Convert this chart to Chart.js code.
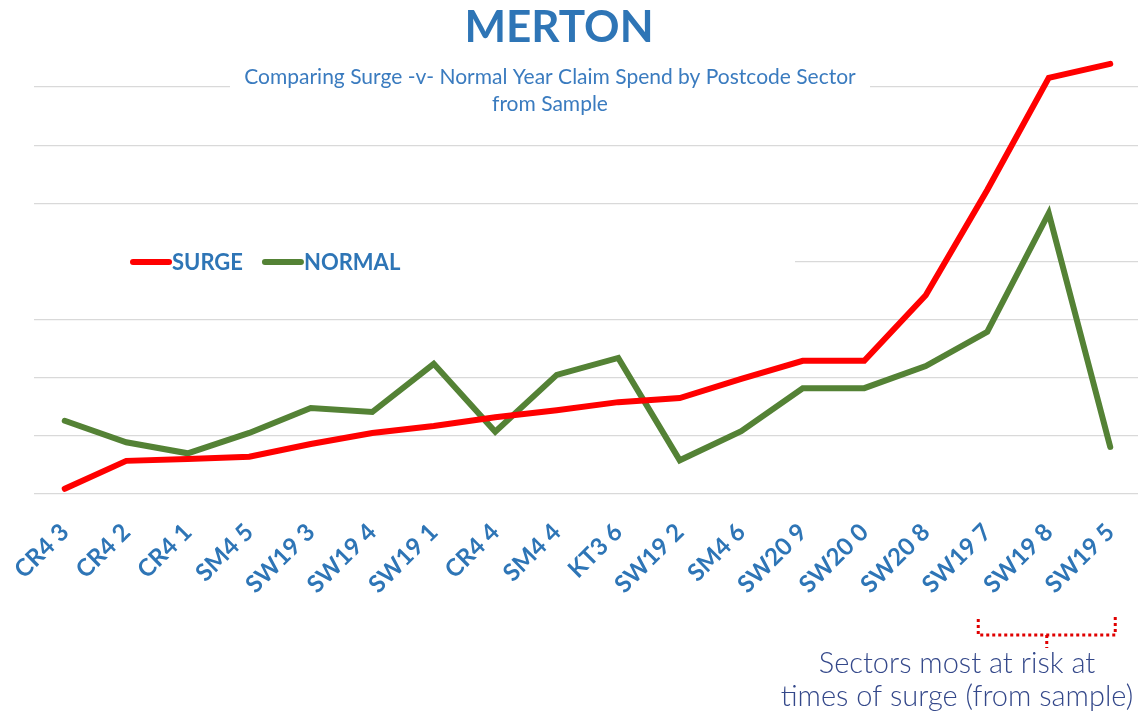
<!DOCTYPE html>
<html>
<head>
<meta charset="utf-8">
<script src="https://cdn.jsdelivr.net/npm/chart.js@4.4.0/dist/chart.umd.min.js"></script>
<style>
  html, body { margin: 0; padding: 0; background: #fff; }
  #wrap { width: 1138px; height: 715px; overflow: hidden; position: relative; }
  canvas { display: block; }
</style>
</head>
<body>
<div id="wrap">
  <canvas id="mertonChart" width="1142" height="715"></canvas>
</div>
<script>
// postcode sectors, sorted by surge spend
const sectors = ['CR4 3', 'CR4 2', 'CR4 1', 'SM4 5', 'SW19 3', 'SW19 4', 'SW19 1', 'CR4 4', 'SM4 4',
    'KT3 6', 'SW19 2', 'SM4 6', 'SW20 9', 'SW20 0', 'SW20 8', 'SW19 7', 'SW19 8', 'SW19 5'];

const surgeSpend = [0.09, 0.57, 0.60, 0.64, 0.86, 1.05, 1.17, 1.32, 1.44,
    1.58, 1.65, 1.98, 2.29, 2.29, 3.42, 5.23, 7.16, 7.40];

const normalSpend = [1.26, 0.89, 0.70, 1.05, 1.48, 1.41, 2.24, 1.07, 2.05,
    2.34, 0.58, 1.08, 1.82, 1.82, 2.20, 2.79, 4.83, 0.81];

const yGridValues = [0, 1, 2, 3, 4, 5, 6, 7];

const BLUE = '#2E75B6';
const FONT = 'Lato, "Open Sans", sans-serif';

// title, subtitle, legend and the bracket note are drawn by hand, like the original slide
const overlayPlugin = {
    id: 'overlay',
    afterDraw(chart) {
        const ctx = chart.ctx;
        const xScale = chart.scales.x;
        ctx.save();

        // title
        ctx.fillStyle = BLUE;
        ctx.textAlign = 'center';
        ctx.textBaseline = 'middle';
        ctx.font = 'bold 44px ' + FONT;
        ctx.fillText('MERTON', 559, 28);

        // subtitle sits on a white box that breaks the top gridline
        ctx.fillStyle = '#fff';
        ctx.fillRect(230, 64, 640, 52);
        ctx.fillStyle = '#3A7BBF';
        ctx.font = '21px ' + FONT;
        ctx.fillText('Comparing Surge -v- Normal Year Claim Spend by Postcode Sector', 550, 77);
        ctx.fillText('from Sample', 550, 104);

        // legend
        ctx.fillStyle = '#fff';
        ctx.fillRect(34, 249, 761, 26);
        let x = 133;
        ctx.textAlign = 'left';
        ctx.font = 'bold 22px ' + FONT;
        chart.data.datasets.forEach(ds => {
            ctx.strokeStyle = ds.borderColor;
            ctx.lineWidth = 6;
            ctx.lineCap = 'round';
            ctx.beginPath();
            ctx.moveTo(x, 262);
            ctx.lineTo(x + 36, 262);
            ctx.stroke();
            ctx.fillStyle = BLUE;
            ctx.fillText(ds.label, x + 39, 263);
            x += 39 + ctx.measureText(ds.label).width + 22;
        });

        // dotted bracket under the last sectors
        const left = xScale.getPixelForValue(15) - 9;
        const right = xScale.getPixelForValue(17) + 5;
        const mid = (left + right) / 2;
        ctx.strokeStyle = '#E00000';
        ctx.lineWidth = 3;
        ctx.lineCap = 'butt';
        ctx.setLineDash([3, 3]);
        ctx.beginPath();
        ctx.moveTo(left, 619);
        ctx.lineTo(left, 635);
        ctx.lineTo(right, 635);
        ctx.lineTo(right, 617);
        ctx.moveTo(mid, 635);
        ctx.lineTo(mid, 648);
        ctx.stroke();
        ctx.setLineDash([]);

        ctx.fillStyle = '#34488A';
        ctx.textAlign = 'center';
        ctx.font = '300 29px ' + FONT;
        ctx.fillText('Sectors most at risk at', 957, 664);
        ctx.fillText('times of surge (from sample)', 957, 697);

        ctx.restore();
    }
};

const chart = new Chart(document.getElementById('mertonChart').getContext('2d'), {
    type: 'line',
    data: {
        labels: sectors,
        datasets: [
            {
                label: 'SURGE',
                data: surgeSpend,
                borderColor: '#FF0000',
                borderWidth: 6,
                borderCapStyle: 'round',
                pointRadius: 0,
                tension: 0
            },
            {
                label: 'NORMAL',
                data: normalSpend,
                borderColor: '#548235',
                borderWidth: 6,
                borderCapStyle: 'round',
                pointRadius: 0,
                tension: 0
            }
        ]
    },
    options: {
        responsive: false,
        animation: false,
        layout: {padding: {left: 34, right: 1, top: 58, bottom: 0}},
        plugins: {
            legend: {display: false},
            title: {display: false},
            tooltip: {enabled: false}
        },
        scales: {
            x: {
                offset: true,
                grid: {display: false},
                border: {display: false},
                ticks: {
                    color: BLUE,
                    font: {family: FONT, size: 24, weight: 'bold'},
                    minRotation: 45,
                    maxRotation: 45,
                    autoSkip: false,
                    padding: 16
                },
                afterFit(scale) {
                    scale.height = 221;
                    scale.paddingLeft = 0;
                    scale.paddingRight = 0;
                }
            },
            y: {
                min: 0,
                max: 7.5,
                border: {display: false},
                grid: {color: '#D9D9D9', lineWidth: 1.2, drawTicks: false},
                ticks: {display: false, includeBounds: false},
                afterBuildTicks(scale) {
                    scale.ticks = yGridValues.map(v => ({value: v}));
                },
                afterFit(scale) {
                    scale.width = 0;
                }
            }
        }
    },
    plugins: [overlayPlugin]
});
</script>
</body>
</html>
